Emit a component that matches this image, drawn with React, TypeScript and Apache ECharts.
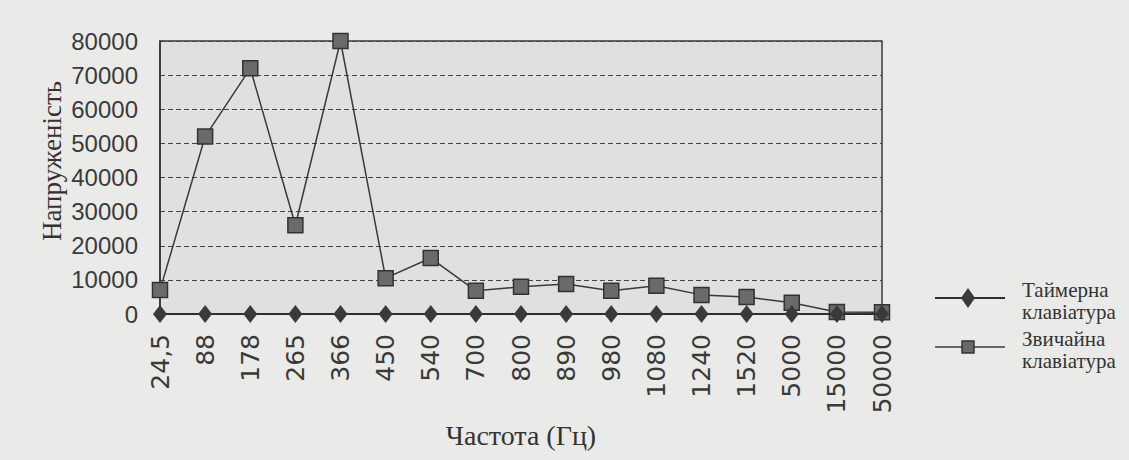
import React, { useEffect, useRef } from "react";
import * as echarts from "echarts";

const categories = ["24,5", "88", "178", "265", "366", "450", "540", "700", "800", "890", "980", "1080", "1240", "1520", "5000", "15000", "50000"];
const timerKeyboard = [0, 0, 0, 0, 0, 0, 0, 0, 0, 0, 0, 0, 0, 0, 0, 0, 0];
const ordinaryKeyboard = [7000, 52000, 72000, 26000, 80000, 10500, 16400, 6800, 8000, 8800, 6800, 8300, 5600, 5000, 3300, 600, 500];
const seriesNames = ["Таймерна\nклавіатура", "Звичайна\nклавіатура"];
const yTitle = "Напруженість";
const xTitle = "Частота (Гц)";

export default function App() {
  const ref = useRef<HTMLDivElement>(null);
  useEffect(() => {
    if (!ref.current) return;
    const chart = echarts.init(ref.current, null, { renderer: "svg" });
    const serif = "Liberation Serif";
    const legendText = (text: string, y: number) => ({
      type: "text",
      x: 1022,
      y,
      style: {
        text,
        fontFamily: serif,
        fontSize: 21,
        lineHeight: 22,
        fill: "#333",
        align: "left",
        verticalAlign: "middle",
      },
    });
    chart.setOption({
      animation: false,
      backgroundColor: "#eaeae8",
      grid: {
        left: 160,
        right: 247,
        top: 41,
        bottom: 146,
        outerBoundsMode: "none",
        containLabel: false,
        show: true,
        backgroundColor: "#e0e0de",
        borderColor: "#3a3a3a",
        borderWidth: 1.5,
      },
      graphic: [
        {
          type: "text",
          x: 52,
          y: 161,
          rotation: Math.PI / 2,
          style: {
            text: yTitle,
            fontFamily: serif,
            fontSize: 27,
            fill: "#333",
            align: "center",
            verticalAlign: "middle",
          },
        },
        { type: "line", shape: { x1: 935, y1: 298, x2: 1005, y2: 298 }, style: { stroke: "#2e2e2e", lineWidth: 2 } },
        {
          type: "polygon",
          shape: { points: [[968, 288], [975, 298], [968, 308], [961, 298]] },
          style: { fill: "#3a3a3a" },
        },
        legendText(seriesNames[0], 301),
        { type: "line", shape: { x1: 935, y1: 347, x2: 1005, y2: 347 }, style: { stroke: "#3a3a3a", lineWidth: 1.5 } },
        {
          type: "rect",
          shape: { x: 962, y: 341, width: 12, height: 12 },
          style: { fill: "#6a6a6a", stroke: "#333", lineWidth: 1.5 },
        },
        legendText(seriesNames[1], 350),
      ],
      xAxis: {
        type: "category",
        data: categories,
        boundaryGap: false,
        axisLine: { lineStyle: { color: "#333", width: 1.5 } },
        axisTick: { show: false },
        axisLabel: {
          rotate: 90,
          fontFamily: "DejaVu Sans",
          fontSize: 25,
          color: "#3a3a3a",
          margin: 20,
        },
        name: xTitle,
        nameLocation: "middle",
        nameGap: 106,
        nameTextStyle: { fontFamily: serif, fontSize: 28, color: "#333" },
        splitLine: { show: false },
      },
      yAxis: {
        type: "value",
        min: 0,
        max: 80000,
        interval: 10000,
        axisLine: { show: true, lineStyle: { color: "#333", width: 1.5 } },
        axisTick: { show: false },
        axisLabel: {
          fontFamily: "Liberation Sans",
          fontSize: 24,
          color: "#3a3a3a",
          margin: 22,
          formatter: (v: number) => String(v),
        },
        splitLine: { show: true, lineStyle: { color: "#444", type: [5, 3], width: 1 } },
      },
      series: [
        {
          name: seriesNames[0],
          type: "line",
          data: timerKeyboard,
          symbol: "diamond",
          symbolSize: [14, 18],
          lineStyle: { color: "#2e2e2e", width: 2 },
          itemStyle: { color: "#3a3a3a" },
          z: 3,
        },
        {
          name: seriesNames[1],
          type: "line",
          data: ordinaryKeyboard,
          symbol: "rect",
          symbolSize: 15,
          lineStyle: { color: "#3a3a3a", width: 1.5 },
          itemStyle: { color: "#6a6a6a", borderColor: "#333", borderWidth: 1.5 },
          z: 2,
        },
      ],
    });
    return () => chart.dispose();
  }, []);
  return <div ref={ref} style={{ position: "fixed", left: 0, top: 0, width: 1129, height: 460 }} />;
}
